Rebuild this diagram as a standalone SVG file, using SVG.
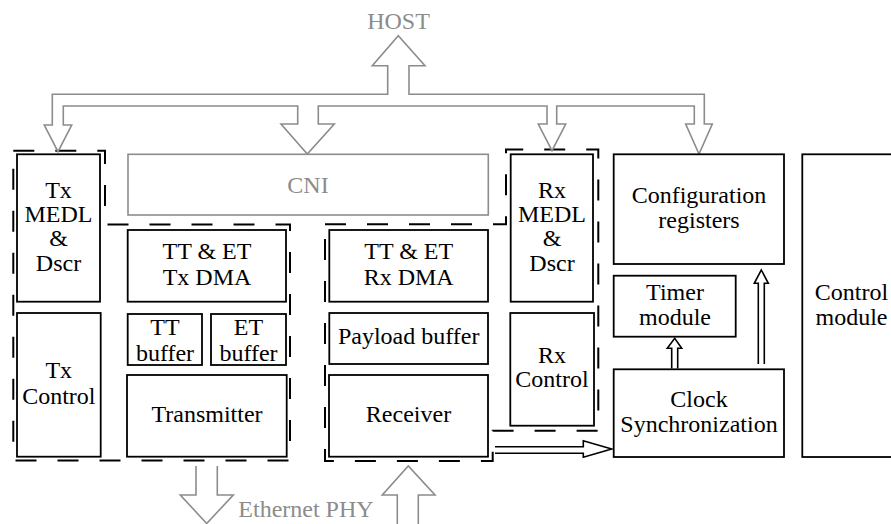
<svg xmlns="http://www.w3.org/2000/svg" width="891" height="524" viewBox="0 0 891 524">
  <style>
    .box { fill: #ffffff; stroke: #000000; stroke-width: 1.8; }
    .gbox { fill: #ffffff; stroke: #8c8c8c; stroke-width: 1.6; }
    .region { fill: none; stroke: #000000; stroke-width: 2; stroke-dasharray: 21 21; }
    .bus { fill: #ffffff; stroke: #8c8c8c; stroke-width: 1.6; stroke-linejoin: miter; }
    .arrow { fill: #ffffff; stroke: #000000; stroke-width: 1.6; stroke-linejoin: miter; }
    text { font-family: "Liberation Serif", "Times New Roman", serif; font-size: 24px; fill: #000000; }
    .c { text-anchor: middle; }
    .gray { fill: #8c8c8c; }
  </style>

  <!-- dashed grouping outlines -->
  <g id="regions">
    <path class="region" d="M13.3,150.7 H105 V224.5 H290 V460.5 H13.3 Z"/>
    <path class="region" d="M325,224.3 H506 V149.5 H598.3 V430.7 H492.7 V461 H325 Z"/>
  </g>

  <g id="connectors">
    <!-- host bus -->
    <path class="bus" d="M398.3,35.7 L425,65.7 H409 V94.3 H704.3 V124 H712.3 L699,154 L685.7,124 H694.3 V106 H556.7 V124 H565.7 L552,150.7 L538.3,124 H547 V106 H318.3 V124 H334.3 L307.3,154 L281,124 H297.7 V106 H63.3 V125 H71.7 L58,151.7 L44.3,125 H52.3 V94.3 H387.7 V65.7 H372.3 Z"/>
    <!-- Ethernet PHY out / in -->
    <path class="bus" d="M196,466 V495 H180.3 L206.7,523.5 L233.3,495 H217.3 V466"/>
    <path class="bus" d="M397.3,530 V495 H382.3 L408.3,466 L435,495 H418.3 V530"/>
    <!-- receiver to clock synchronization -->
    <path class="arrow" d="M495,446.7 H583.3 V440.7 L611.7,449 L583.3,457.3 V453.3 H495"/>
    <!-- clock synchronization to timer -->
    <path class="arrow" d="M671.7,368.5 V348.3 H667.3 L674.7,338.3 L681.7,348.3 H677.7 V368.5"/>
    <!-- clock synchronization to configuration registers -->
    <path class="arrow" d="M758.3,364 V283.3 H754.3 L761.3,270 L768.3,283.3 H764.3 V364"/>
  </g>

  <g id="host">
    <text class="c gray" x="398.5" y="29">HOST</text>
  </g>
  <g id="ethernet-phy">
    <text class="gray" x="238.3" y="516.7">Ethernet PHY</text>
  </g>

  <g id="cni">
    <rect class="gbox" x="128" y="154.3" width="360.3" height="60.7"/>
    <text class="c gray" x="308" y="192.7">CNI</text>
  </g>

  <g id="tx-medl">
    <rect class="box" x="17" y="154.3" width="83" height="147.4"/>
    <text class="c" x="58.5" y="197.5">Tx</text>
    <text class="c" x="58.5" y="221.8">MEDL</text>
    <text class="c" x="58.5" y="246.3">&amp;</text>
    <text class="c" x="58.5" y="271">Dscr</text>
  </g>

  <g id="tx-control">
    <rect class="box" x="17" y="313" width="83.7" height="143.7"/>
    <text class="c" x="58.8" y="378.3">Tx</text>
    <text class="c" x="58.8" y="403.5">Control</text>
  </g>

  <g id="tx-dma">
    <rect class="box" x="127.7" y="230" width="158.3" height="71.7"/>
    <text class="c" x="207" y="259.3">TT &amp; ET</text>
    <text class="c" x="207" y="284.8">Tx DMA</text>
  </g>

  <g id="tt-buffer">
    <rect class="box" x="127.7" y="314" width="74.3" height="51"/>
    <text class="c" x="165" y="335">TT</text>
    <text class="c" x="165" y="361.3">buffer</text>
  </g>

  <g id="et-buffer">
    <rect class="box" x="211" y="314" width="75" height="51"/>
    <text class="c" x="248.5" y="335">ET</text>
    <text class="c" x="248.5" y="361.3">buffer</text>
  </g>

  <g id="transmitter">
    <rect class="box" x="127" y="375" width="159.7" height="81.7"/>
    <text class="c" x="207" y="422.3">Transmitter</text>
  </g>

  <g id="rx-dma">
    <rect class="box" x="329.3" y="230" width="158.7" height="71.7"/>
    <text class="c" x="408.7" y="259.3">TT &amp; ET</text>
    <text class="c" x="408.7" y="284.8">Rx DMA</text>
  </g>

  <g id="payload-buffer">
    <rect class="box" x="329.3" y="313" width="158.7" height="51"/>
    <text class="c" x="408.7" y="344.3">Payload buffer</text>
  </g>

  <g id="receiver">
    <rect class="box" x="329" y="375" width="159" height="81.7"/>
    <text class="c" x="408.5" y="422.3">Receiver</text>
  </g>

  <g id="rx-medl">
    <rect class="box" x="510.7" y="154.3" width="82.3" height="147.4"/>
    <text class="c" x="552" y="197.5">Rx</text>
    <text class="c" x="552" y="221.8">MEDL</text>
    <text class="c" x="552" y="246.3">&amp;</text>
    <text class="c" x="552" y="271">Dscr</text>
  </g>

  <g id="rx-control">
    <rect class="box" x="510.3" y="313" width="83.7" height="112.7"/>
    <text class="c" x="552" y="363">Rx</text>
    <text class="c" x="552" y="387.3">Control</text>
  </g>

  <g id="configuration-registers">
    <rect class="box" x="613.7" y="154.3" width="170.3" height="109.7"/>
    <text class="c" x="699" y="203.3">Configuration</text>
    <text class="c" x="699" y="228">registers</text>
  </g>

  <g id="timer-module">
    <rect class="box" x="613.7" y="275.7" width="122" height="61"/>
    <text class="c" x="675" y="300">Timer</text>
    <text class="c" x="675" y="325">module</text>
  </g>

  <g id="clock-synchronization">
    <rect class="box" x="613.7" y="369.3" width="170.3" height="87.7"/>
    <text class="c" x="699" y="406.7">Clock</text>
    <text class="c" x="699" y="431.7">Synchronization</text>
  </g>

  <g id="control-module">
    <rect class="box" x="802.3" y="154.3" width="100" height="302.7"/>
    <text class="c" x="851.5" y="300">Control</text>
    <text class="c" x="851.5" y="325">module</text>
  </g>
</svg>
